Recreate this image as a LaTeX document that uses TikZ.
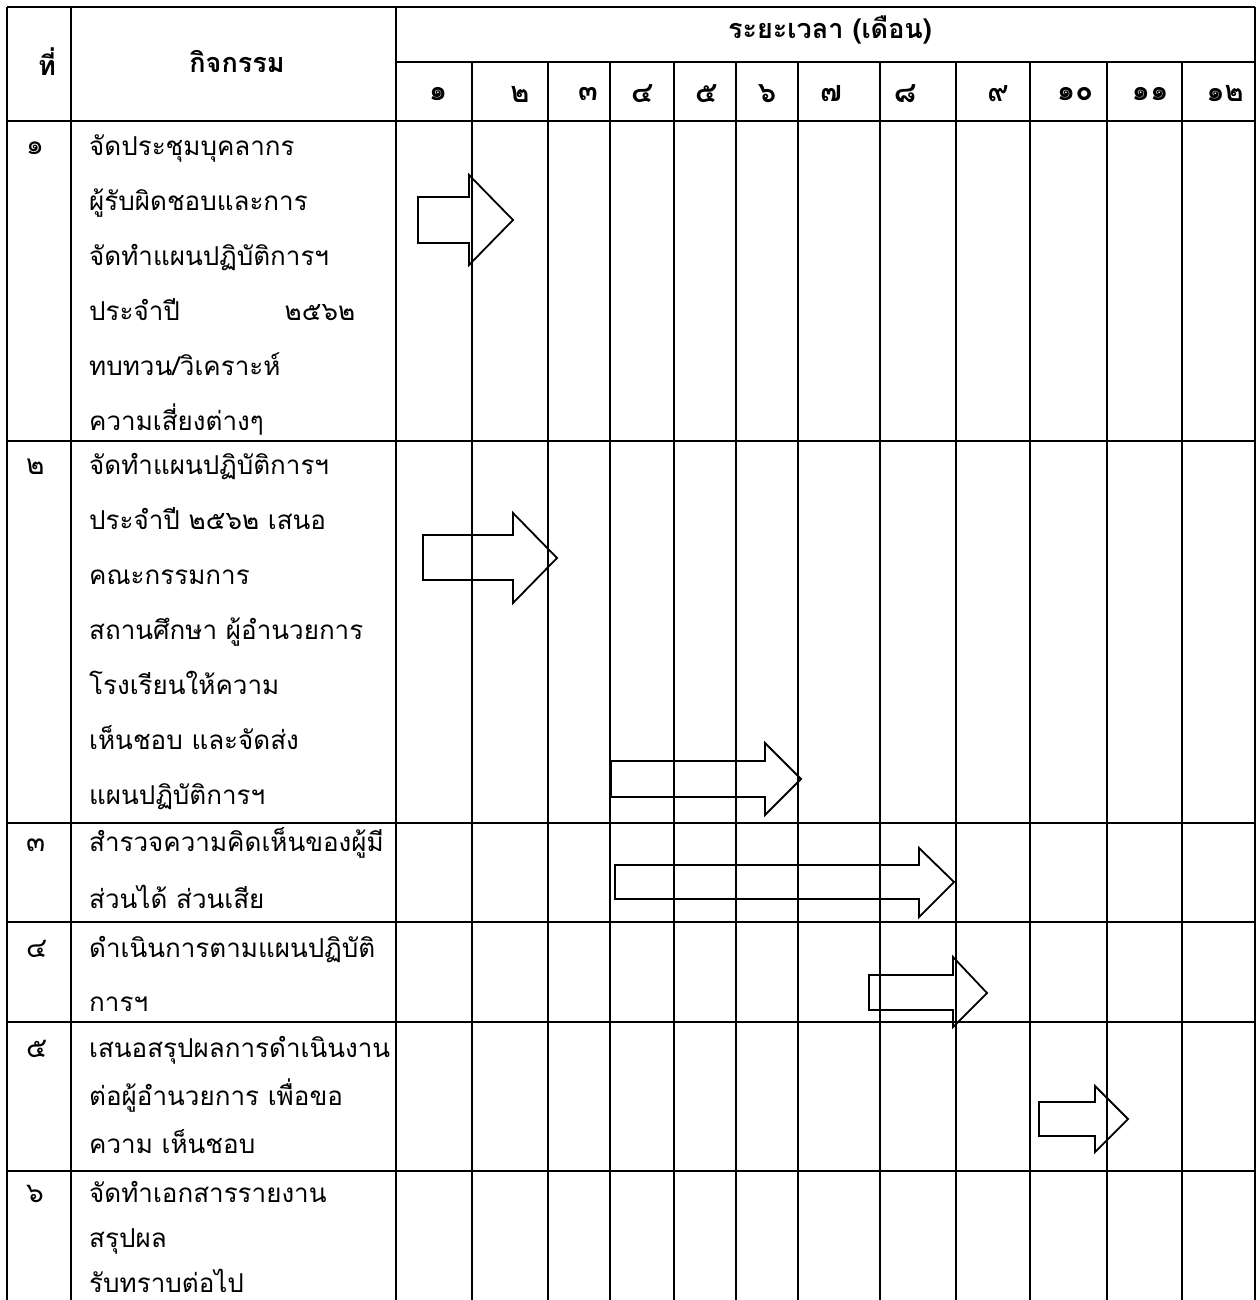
\documentclass[tikz,border=0pt]{standalone}
\usepackage{fontspec}
\newfontfamily\thaifont[Script=Thai]{Loma}
\tikzset{
  rule/.style={line width=1.8pt},
  blockarr/.style={line width=1.8pt, line join=miter},
  hd/.style={inner sep=0pt, font=\thaifont\bfseries\fontsize{27}{30}\selectfont},
  mon/.style={inner sep=0pt, font=\thaifont\bfseries\fontsize{29}{30}\selectfont},
  no/.style={anchor=base west, inner sep=0pt, font=\thaifont\fontsize{28}{30}\selectfont},
  cell/.style={anchor=base west, inner sep=0pt, align=left},
}
\begin{document}
\begin{tikzpicture}[x=1pt,y=-1pt]
\useasboundingbox (0,0) rectangle (1259,1300);
\draw[rule] (7,7) -- (1255,7);
\draw[rule] (396,62) -- (1255,62);
\draw[rule] (7,121) -- (1255,121);
\draw[rule] (7,441) -- (1255,441);
\draw[rule] (7,823) -- (1255,823);
\draw[rule] (7,922) -- (1255,922);
\draw[rule] (7,1022) -- (1255,1022);
\draw[rule] (7,1171) -- (1255,1171);
\draw[rule] (7,7) -- (7,1300);
\draw[rule] (71,7) -- (71,1300);
\draw[rule] (396,7) -- (396,1300);
\draw[rule] (1255,7) -- (1255,1300);
\foreach \x in {472,548,610,674,736,798,880,956,1030,1107,1182}
  \draw[rule] (\x,62) -- (\x,1300);
\node[hd] (hno) at (47,62) {ที่};
\node[hd] (hact) at (237,62) {กิจกรรม};
\node[hd] (htime) at (830,30) {ระยะเวลา (เดือน)};
\node[mon] (m1) at (438,94) {๑};
\node[mon] (m2) at (520,94) {๒};
\node[mon] (m3) at (588,94) {๓};
\node[mon] (m4) at (642,94) {๔};
\node[mon] (m5) at (706,94) {๕};
\node[mon] (m6) at (767,94) {๖};
\node[mon] (m7) at (831,94) {๗};
\node[mon] (m8) at (905,94) {๘};
\node[mon] (m9) at (998,94) {๙};
\node[mon] (m10) at (1075,94) {๑๐};
\node[mon] (m11) at (1150,94) {๑๑};
\node[mon] (m12) at (1225,94) {๑๒};
\node[no] (n1) at (26,155) {๑};
\node[no] (n2) at (26,474) {๒};
\node[no] (n3) at (26,851) {๓};
\node[no] (n4) at (26,957) {๔};
\node[no] (n5) at (26,1057) {๕};
\node[no] (n6) at (26,1202) {๖};
\node[cell, font=\thaifont\fontsize{26}{55}\selectfont] (t1) at (89,430)
  {จัดประชุมบุคลากร\\ผู้รับผิดชอบและการ\\จัดทำแผนปฏิบัติการฯ\\\makebox[266pt][s]{ประจำปี\hfill ๒๕๖๒}\\ทบทวน/วิเคราะห์\\ความเสี่ยงต่างๆ};
\node[cell, font=\thaifont\fontsize{26}{55}\selectfont] (t2) at (89,804)
  {จัดทำแผนปฏิบัติการฯ\\ประจำปี ๒๕๖๒ เสนอ\\คณะกรรมการ\\สถานศึกษา ผู้อำนวยการ\\โรงเรียนให้ความ\\เห็นชอบ และจัดส่ง\\แผนปฏิบัติการฯ};
\node[cell, font=\thaifont\fontsize{26}{57}\selectfont] (t3) at (89,908)
  {สำรวจความคิดเห็นของผู้มี\\ส่วนได้ ส่วนเสีย};
\node[cell, font=\thaifont\fontsize{26}{54}\selectfont] (t4) at (89,1011)
  {ดำเนินการตามแผนปฏิบัติ\\การฯ};
\node[cell, font=\thaifont\fontsize{26}{48}\selectfont] (t5) at (89,1153)
  {เสนอสรุปผลการดำเนินงาน\\ต่อผู้อำนวยการ เพื่อขอ\\ความ เห็นชอบ};
\node[cell, font=\thaifont\fontsize{26}{45}\selectfont] (t6) at (89,1292)
  {จัดทำเอกสารรายงาน\\สรุปผล\\รับทราบต่อไป};
\draw[blockarr] (418,197) -- (469,197) -- (469,175) -- (513,220) -- (469,265) -- (469,243) -- (418,243) -- cycle;
\draw[blockarr] (423,535) -- (513,535) -- (513,513) -- (557,558) -- (513,603) -- (513,580) -- (423,580) -- cycle;
\draw[blockarr] (611,761) -- (765,761) -- (765,743) -- (801,779) -- (765,815) -- (765,797) -- (611,797) -- cycle;
\draw[blockarr] (615,865) -- (919,865) -- (919,848) -- (954,882) -- (919,917) -- (919,899) -- (615,899) -- cycle;
\draw[blockarr] (869,975) -- (953,975) -- (953,957) -- (987,993) -- (953,1027) -- (953,1010) -- (869,1010) -- cycle;
\draw[blockarr] (1039,1102) -- (1095,1102) -- (1095,1086) -- (1128,1119) -- (1095,1152) -- (1095,1136) -- (1039,1136) -- cycle;
\end{tikzpicture}
\end{document}
